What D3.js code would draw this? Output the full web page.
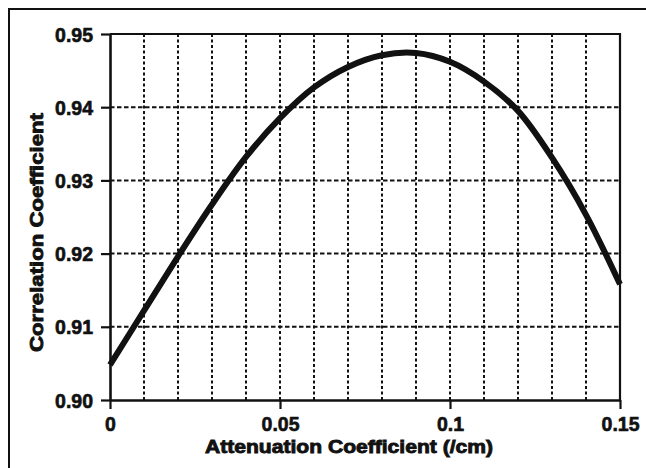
<!DOCTYPE html>
<html><head><meta charset="utf-8">
<script src="https://cdn.jsdelivr.net/npm/d3@7"></script>
<style>body{margin:0;background:#fff}svg{display:block}text{font-family:"Liberation Sans",Arial,sans-serif;font-weight:bold;fill:#111}</style>
</head><body><svg id="c" width="646" height="468"></svg>
<script>
const xValues = [0, 0.01, 0.02, 0.03, 0.04, 0.05, 0.06, 0.07, 0.08, 0.09, 0.10, 0.11, 0.12, 0.13, 0.14, 0.15];
const corrValues = [0.9048, 0.9122, 0.9196, 0.9267, 0.9332, 0.9385, 0.9427, 0.9455, 0.9471, 0.9474, 0.9462, 0.9435, 0.9395, 0.9331, 0.9253, 0.9158];
const xTicks = [0, 0.05, 0.1, 0.15];
const xTickLabels = ["0", "0.05", "0.1", "0.15"];
const yTicks = [0.90, 0.91, 0.92, 0.93, 0.94, 0.95];
const yTickLabels = ["0.90", "0.91", "0.92", "0.93", "0.94", "0.95"];
const xGrid = [0.01,0.02,0.03,0.04,0.05,0.06,0.07,0.08,0.09,0.10,0.11,0.12,0.13,0.14];
const yGrid = [0.91,0.92,0.93,0.94];
const xTitle = "Attenuation Coefficient (/cm)";
const yTitle = "Correlation Coefficient";

const svg = d3.select("#c");
const L=110, R=620, T=34, B=400;
const x = d3.scaleLinear().domain([0,0.15]).range([L,R]);
const y = d3.scaleLinear().domain([0.90,0.95]).range([B,T]);

// outer border
svg.append("rect").attr("x",9).attr("y",9).attr("width",660).attr("height",480)
  .attr("fill","none").attr("stroke","#111").attr("stroke-width",2);

// grid
svg.append("g").selectAll("line").data(xGrid).join("line")
  .attr("x1",d=>x(d)).attr("x2",d=>x(d)).attr("y1",T).attr("y2",B)
  .attr("stroke","#111").attr("stroke-width",2).attr("stroke-dasharray","3,2.5");
svg.append("g").selectAll("line").data(yGrid).join("line")
  .attr("x1",L).attr("x2",R).attr("y1",d=>y(d)).attr("y2",d=>y(d))
  .attr("stroke","#111").attr("stroke-width",2).attr("stroke-dasharray","4.5,2.5");

// frame top/right
svg.append("path").attr("d",`M${L},${T}H${R}V${B}`).attr("fill","none").attr("stroke","#111").attr("stroke-width",2.2);

// axes
const xAxis = d3.axisBottom(x).tickValues(xTicks).tickFormat((d,i)=>xTickLabels[i]).tickSize(9).tickPadding(8).tickSizeOuter(0);
const gx = svg.append("g").attr("transform",`translate(0,${B})`).call(xAxis);
const yAxis = d3.axisLeft(y).tickValues(yTicks).tickFormat((d,i)=>yTickLabels[i]).tickSize(9).tickPadding(8).tickSizeOuter(0);
const gy = svg.append("g").attr("transform",`translate(${L},0)`).call(yAxis);
[gx,gy].forEach(g=>{
  g.select(".domain").attr("stroke","#111").attr("stroke-width",2.6);
  g.selectAll(".tick line").attr("stroke","#111").attr("stroke-width",2.2);
  g.selectAll(".tick text").attr("font-size",19.5).attr("font-family","Liberation Sans, Arial, sans-serif")
    .attr("font-weight","bold").attr("fill","#111").attr("stroke","#111").attr("stroke-width",0.6);
});
gy.selectAll(".tick text").attr("dy","0.36em");

// curve
const line = d3.line().x((d,i)=>x(xValues[i])).y(d=>y(d)).curve(d3.curveCatmullRom);
svg.append("path").datum(corrValues).attr("d",line).attr("fill","none")
  .attr("stroke","#111").attr("stroke-width",6).attr("stroke-linejoin","round");

// titles
svg.append("text").attr("x",349).attr("y",453).attr("text-anchor","middle")
  .attr("font-size",19).attr("stroke","#111").attr("stroke-width",0.9)
  .attr("textLength",288).attr("lengthAdjust","spacingAndGlyphs").text(xTitle);
svg.append("text").attr("transform","translate(43,232.5) rotate(-90)").attr("text-anchor","middle")
  .attr("font-size",19).attr("stroke","#111").attr("stroke-width",0.9)
  .attr("textLength",239).attr("lengthAdjust","spacingAndGlyphs").text(yTitle);
</script></body></html>
